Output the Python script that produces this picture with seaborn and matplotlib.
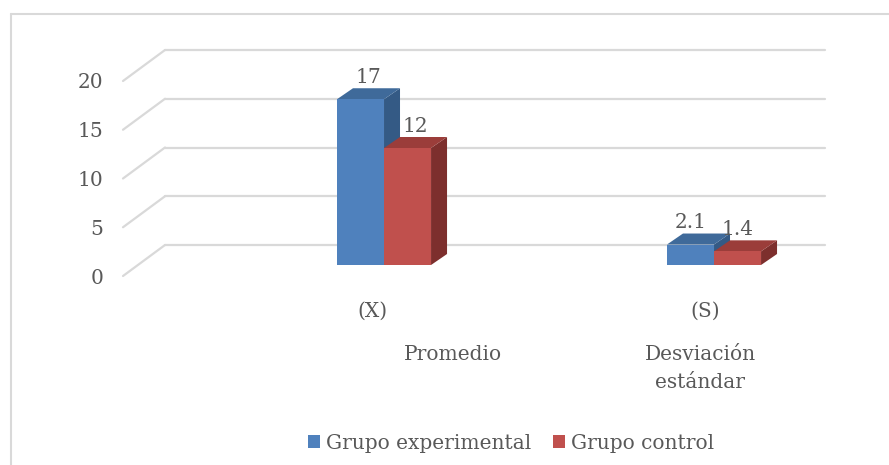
import matplotlib
matplotlib.use("Agg")
import matplotlib.pyplot as plt
import matplotlib.transforms as mtrans
from matplotlib.patches import Polygon
from matplotlib.lines import Line2D
import seaborn as sns
import pandas as pd

# ---- data ----
categories = ["(X)", "(S)"]
subtitles = ["Promedio", "Desviación\nestándar"]
groups = ["Grupo experimental", "Grupo control"]
experimental = [17, 2.1]
control = [12, 1.4]
yticks = [0, 5, 10, 15, 20]

df = pd.DataFrame({
    "cat": categories * 2,
    "grupo": [groups[0]] * 2 + [groups[1]] * 2,
    "valor": experimental + control,
})

# ---- style ----
sns.set_theme(style="white")
plt.rcParams["font.family"] = ["DejaVu Serif"]
TEXT = "#595959"
GRID = "#D9D9D9"
FS = 14.5

face = ["#4F81BD", "#C0504D"]
topc = ["#3F6A9A", "#9B3D3A"]
sidec = ["#345A85", "#7D2F2D"]

W, H, DPI = 889, 465, 100
fig = plt.figure(figsize=(W / DPI, H / DPI), dpi=DPI)
ax = fig.add_axes([138 / W, 200 / H, 660 / W, 195 / H])

sns.barplot(data=df, x="cat", y="valor", hue="grupo", order=categories,
            hue_order=groups, palette=face, width=0.285, gap=0,
            saturation=1, linewidth=0, ax=ax, legend=True)

ax.set_xlim(-0.7455, 1.2545)
ax.set_ylim(0, 20)
ax.set_xticks([])
ax.set_yticks([])
ax.set_xlabel("")
ax.set_ylabel("")
ax.set_facecolor("none")
for s in ax.spines.values():
    s.set_visible(False)

# pixel scale of data units
p0 = ax.transData.transform((0, 0))
p1 = ax.transData.transform((1, 1))
sx, sy = p1[0] - p0[0], p1[1] - p0[1]

x0, x1 = ax.get_xlim()
# back wall gridlines and side diagonals
bx, by = 27 / sx, 20 / sy
fx, fy = -15 / sx, -11 / sy
for v in yticks:
    ax.add_line(Line2D([x0 + bx, x1 + bx], [v + by, v + by], color=GRID,
                       lw=1.6, zorder=1, clip_on=False))
    ax.add_line(Line2D([x0 + fx, x0 + bx], [v + fy, v + by], color=GRID,
                       lw=1.6, zorder=1, clip_on=False))

# 3D depth faces
ddx, ddy = 16 / sx, 11 / sy
label_dx = [8, 0]
for i, cont in enumerate(ax.containers):
    for j, bar in enumerate(cont):
        bar.set_zorder(3 + i + 0.5)
        xb, w, h = bar.get_x(), bar.get_width(), bar.get_height()
        side = Polygon([(xb + w, 0), (xb + w, h), (xb + w + ddx, h + ddy),
                        (xb + w + ddx, ddy)], closed=True, facecolor=sidec[i],
                       edgecolor="none", zorder=3 + i, clip_on=False)
        top = Polygon([(xb, h), (xb + w, h), (xb + w + ddx, h + ddy),
                       (xb + ddx, h + ddy)], closed=True, facecolor=topc[i],
                      edgecolor="none", zorder=3 + i, clip_on=False)
        ax.add_patch(side)
        ax.add_patch(top)
        tr = ax.transData + mtrans.ScaledTranslation(label_dx[j] / DPI, 24 / DPI,
                                                     fig.dpi_scale_trans)
        ax.text(xb + w / 2, h, f"{h:g}", transform=tr, ha="center",
                va="center_baseline", fontsize=FS, color=TEXT, zorder=10,
                clip_on=False)

# y tick labels on the front plane
ytr = ax.get_yaxis_transform() + mtrans.ScaledTranslation(-35 / DPI, -11 / DPI,
                                                          fig.dpi_scale_trans)
for v in yticks:
    ax.text(0, v, str(v), transform=ytr, ha="right", va="center_baseline",
            fontsize=FS, color=TEXT)

# category labels
cat_dx = [-12, -9]
sub_dx = [69, -14]
for j, (c, s) in enumerate(zip(categories, subtitles)):
    tr = ax.get_xaxis_transform() + mtrans.ScaledTranslation(
        cat_dx[j] / DPI, -44 / DPI, fig.dpi_scale_trans)
    ax.text(j, 0, c, transform=tr, ha="center", va="center_baseline",
            fontsize=FS, color=TEXT)
    for k, line in enumerate(s.split("\n")):
        tr2 = ax.get_xaxis_transform() + mtrans.ScaledTranslation(
            sub_dx[j] / DPI, (-88 - 27 * k) / DPI, fig.dpi_scale_trans)
        ax.text(j, 0, line, transform=tr2, ha="center", va="center_baseline",
                fontsize=FS, color=TEXT)

# legend
sns.move_legend(ax, "center", bbox_to_anchor=(511 / W, 22 / H),
                bbox_transform=fig.transFigure, ncol=2, frameon=False,
                title=None, fontsize=FS, handlelength=0.62, handleheight=0.62,
                handletextpad=0.3, columnspacing=1.05, labelcolor=TEXT)

# chart frame (left and top edges)
fig.add_artist(Line2D([11 / W, 11 / W], [0, (H - 14) / H],
                      transform=fig.transFigure, color=GRID, lw=1.5))
fig.add_artist(Line2D([11 / W, 1], [(H - 14) / H, (H - 14) / H],
                      transform=fig.transFigure, color=GRID, lw=1.5))

fig.savefig("out.png", dpi=DPI)
